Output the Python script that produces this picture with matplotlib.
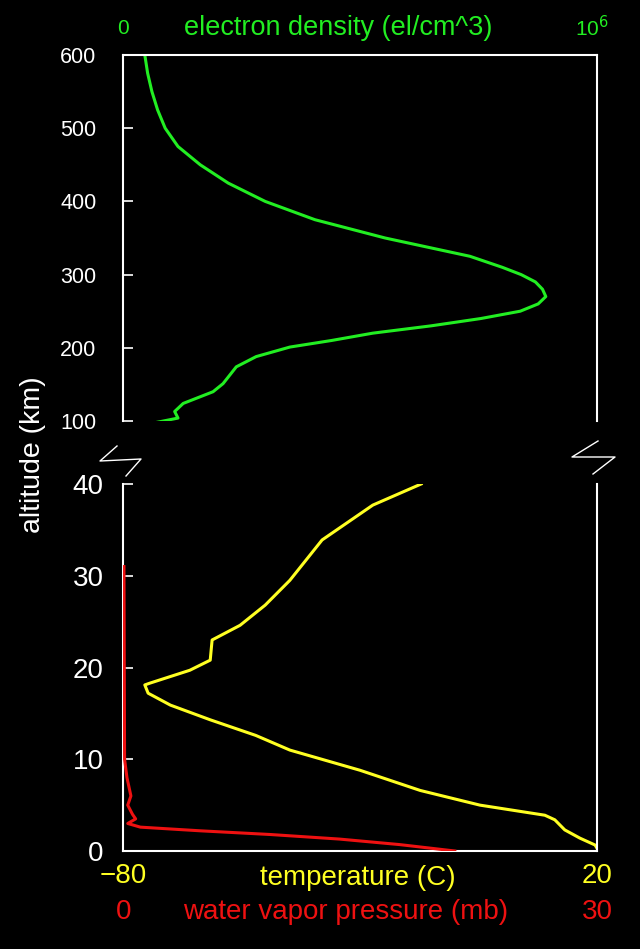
import matplotlib
matplotlib.use('Agg')
import matplotlib.pyplot as plt
from matplotlib.lines import Line2D

plt.rcParams['font.family'] = ['Liberation Sans', 'DejaVu Sans']

# electron density (fraction of 1e6 el/cm^3) vs altitude (km)
ne_alt = [600, 575, 550, 525, 500, 475, 450, 425, 400, 375, 350, 325, 310, 300,
          290, 280, 270, 260, 250, 240, 230, 220, 210, 201, 188, 174, 151, 140,
          124, 113, 104, 98]
ne_val = [0.046, 0.052, 0.061, 0.073, 0.089, 0.116, 0.163, 0.222, 0.30, 0.405,
          0.553, 0.732, 0.80, 0.84, 0.87, 0.885, 0.892, 0.876, 0.838, 0.755,
          0.65, 0.527, 0.44, 0.352, 0.281, 0.239, 0.211, 0.190, 0.127, 0.109,
          0.116, 0.070]

# temperature (C) vs altitude (km)
t_alt = [40, 37.7, 33.9, 29.5, 26.8, 24.6, 23.0, 20.8, 19.7, 18.3, 18.1, 17.2,
         15.9, 14.3, 12.6, 11.0, 8.8, 6.6, 5.0, 3.9, 3.4, 2.3, 1.4, 0.65, 0.3]
t_val = [-17.1, -27.3, -38.0, -44.8, -50.0, -55.3, -61.2, -61.6, -65.9, -74.3,
         -75.4, -74.7, -70.0, -61.6, -52.0, -44.8, -30.0, -17.3, -4.7, 9.0,
         11.1, 13.2, 16.4, 19.6, 20.0]

# water vapor pressure (mb) vs altitude (km)
w_alt = [31, 20, 10, 8, 6, 5, 4, 3.5, 3.0, 2.6, 2.2, 1.8, 1.3, 0.7, 0.2, 0.0]
w_val = [0.06, 0.08, 0.1, 0.25, 0.5, 0.3, 0.6, 0.8, 0.3, 1.1, 4.9, 9.3, 13.7, 17.5, 20.0, 21.0]

GREEN = '#22ee22'
YELLOW = '#ffff22'
RED = '#ee1111'

fig = plt.figure(figsize=(6.4, 9.49), dpi=100, facecolor='black')
W, H = 640, 949

def px(x0, y0, x1, y1):
    return [x0 / W, 1 - y1 / H, (x1 - x0) / W, (y1 - y0) / H]

ax1 = fig.add_axes(px(123, 55, 597, 421))
ax2 = fig.add_axes(px(123, 484, 597, 851))

for ax in (ax1, ax2):
    ax.set_facecolor('black')
    for s in ax.spines.values():
        s.set_color('white')
        s.set_linewidth(1.5)
    ax.tick_params(axis='y', direction='in', colors='white', length=7, width=1.2, right=False)
    ax.set_xticks([])

ax1.spines['bottom'].set_visible(False)
ax2.spines['top'].set_visible(False)

ax1.plot(ne_val, ne_alt, color=GREEN, lw=2.2)
ax1.set_xlim(0, 1)
ax1.set_ylim(100, 600)
ax1.set_yticks([100, 200, 300, 400, 500, 600])
ax1.tick_params(axis='y', labelsize=15.5, pad=19)

# temperature on one x scale, water vapor on a twin x scale
ax2.plot(t_val, t_alt, color=YELLOW, lw=2.2)
ax2.set_xlim(-80, 20)
ax2.set_ylim(0, 40)
ax2.set_yticks([0, 10, 20, 30, 40])
ax2.tick_params(axis='y', labelsize=20, pad=14)
ax3 = ax2.twiny()
ax3.plot(w_val, w_alt, color=RED, lw=2.2)
ax3.set_xlim(0, 30)
ax3.set_ylim(0, 40)
ax3.axis('off')

# labels
fig.text(123 / W, 1 - 28 / H, '0', color=GREEN, fontsize=15, ha='center', va='center')
fig.text(338 / W, 1 - 28 / H, 'electron density (el/cm^3)', color=GREEN, fontsize=19.5, ha='center', va='center')
fig.text(592 / W, 1 - 28 / H, '10$^{6}$', color=GREEN, fontsize=15, ha='center', va='center')

fig.text(123 / W, 1 - 876 / H, '\u221280', color=YELLOW, fontsize=20, ha='center', va='center')
fig.text(358 / W, 1 - 878 / H, 'temperature (C)', color=YELLOW, fontsize=20, ha='center', va='center')
fig.text(597 / W, 1 - 876 / H, '20', color=YELLOW, fontsize=20, ha='center', va='center')
fig.text(124 / W, 1 - 912 / H, '0', color=RED, fontsize=20, ha='center', va='center')
fig.text(346 / W, 1 - 912 / H, 'water vapor pressure (mb)', color=RED, fontsize=20, ha='center', va='center')
fig.text(597 / W, 1 - 912 / H, '30', color=RED, fontsize=20, ha='center', va='center')

fig.text(33 / W, 1 - 455 / H, 'altitude (km)', color='white', fontsize=20.5, rotation=90, ha='center', va='center')

# axis break marks
for pts in ([(117, 446), (100, 461), (141, 459), (126, 476)],
            [(598, 441), (572, 457), (615, 457), (593, 474)]):
    xs = [p[0] / W for p in pts]
    ys = [1 - p[1] / H for p in pts]
    fig.add_artist(Line2D(xs, ys, color='white', lw=1.0, transform=fig.transFigure))

fig.savefig('out.png', dpi=100, facecolor='black')
